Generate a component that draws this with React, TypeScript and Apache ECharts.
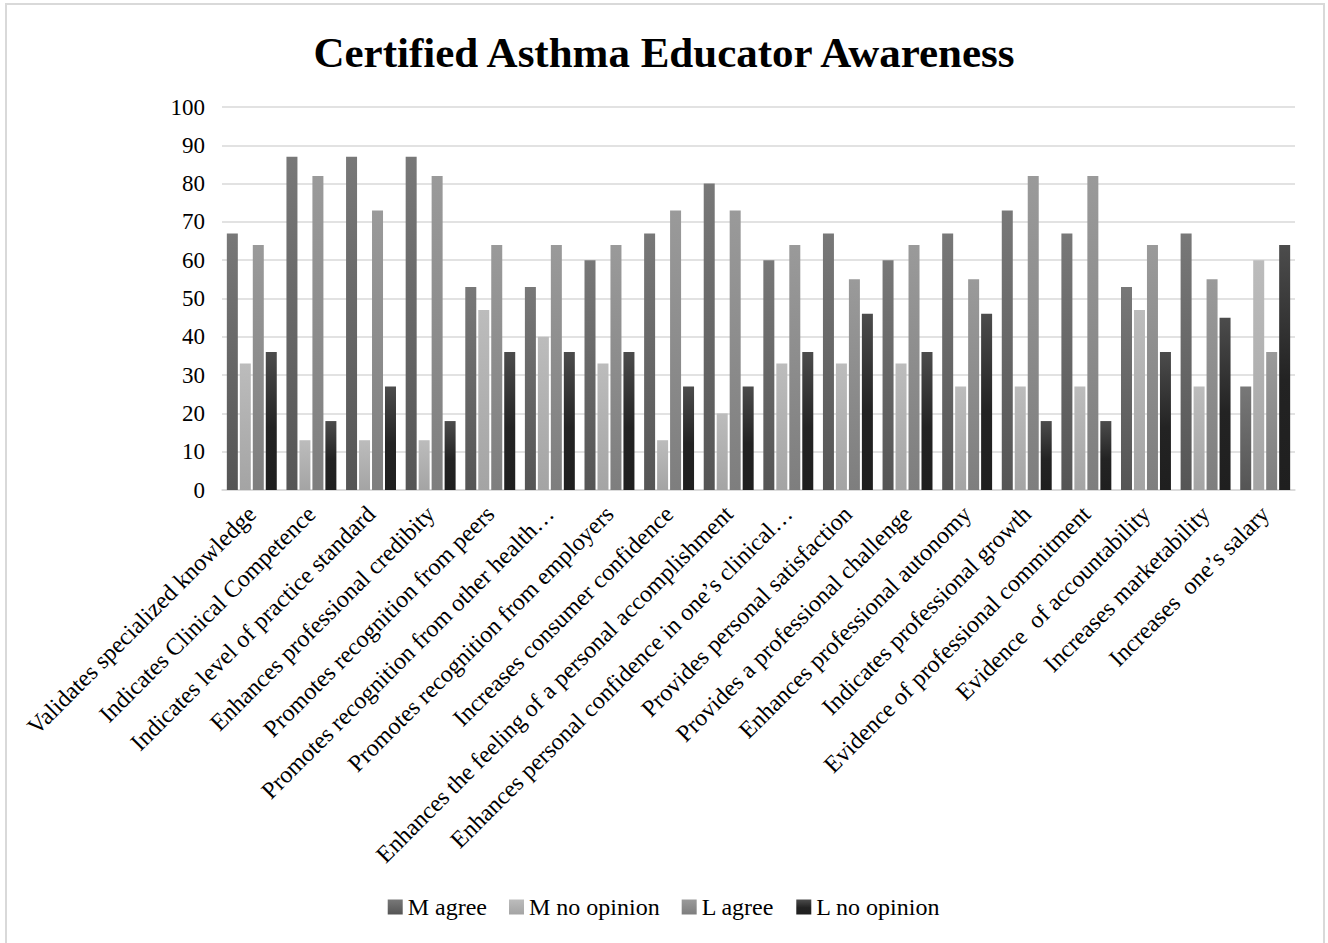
import React, { useEffect, useRef } from "react";
import * as echarts from "echarts";

const categories = [
  "Validates specialized knowledge",
  "Indicates Clinical Competence",
  "Indicates level of practice standard",
  "Enhances professional credibity",
  "Promotes recognition from peers",
  "Promotes recognition from other health…",
  "Promotes recognition from employers",
  "Increases consumer confidence",
  "Enhances the feeling of a personal accomplishment",
  "Enhances personal confidence in one’s clinical…",
  "Provides personal satisfaction",
  "Provides a professional challenge",
  "Enhances professional autonomy",
  "Indicates professional growth",
  "Evidence of professional commitment",
  "Evidence  of accountability",
  "Increases marketability",
  "Increases  one’s salary",
];

const mAgree = [67, 87, 87, 87, 53, 53, 60, 67, 80, 60, 67, 60, 67, 73, 67, 53, 67, 27];
const mNoOpinion = [33, 13, 13, 13, 47, 40, 33, 13, 20, 33, 33, 33, 27, 27, 27, 47, 27, 60];
const lAgree = [64, 82, 73, 82, 64, 64, 64, 73, 73, 64, 55, 64, 55, 82, 82, 64, 55, 36];
const lNoOpinion = [36, 18, 27, 18, 36, 36, 36, 27, 27, 36, 46, 36, 46, 18, 18, 36, 45, 64];

const seriesNames = ["M agree", "M no opinion", "L agree", "L no opinion"];
const yTicks = { min: 0, max: 100, interval: 10 };

const FONT = "'Liberation Serif', 'Times New Roman', serif";

function grad(stops: [number, string][]) {
  return new echarts.graphic.LinearGradient(
    0,
    0,
    0,
    1,
    stops.map(([offset, color]) => ({ offset, color }))
  );
}

export default function App() {
  const ref = useRef<HTMLDivElement>(null);

  useEffect(() => {
    if (!ref.current) return;
    const chart = echarts.init(ref.current, null, { renderer: "svg" });
    const colors = [
      grad([[0, "#787878"], [1, "#555555"]]),
      grad([[0, "#bcbcbc"], [1, "#a4a4a4"]]),
      grad([[0, "#9a9a9a"], [1, "#7e7e7e"]]),
      grad([[0, "#4c4c4c"], [0.55, "#232323"], [1, "#1f1f1f"]]),
    ];
    const datasets = [mAgree, mNoOpinion, lAgree, lNoOpinion];
    chart.setOption({
      animation: false,
      backgroundColor: "#ffffff",
      title: {
        text: "Certified Asthma Educator Awareness",
        left: "center",
        top: 26,
        textStyle: {
          fontFamily: FONT,
          fontWeight: "bold",
          fontSize: 43,
          color: "#000000",
        },
      },
      graphic: [
        {
          type: "rect",
          shape: { x: 6, y: 4, width: 1318, height: 945 },
          style: { fill: "none", stroke: "#d9d9d9", lineWidth: 2 },
          silent: true,
        },
      ],
      legend: {
        bottom: 19,
        left: "center",
        itemWidth: 15,
        itemHeight: 15,
        itemGap: 22,
        icon: "rect",
        textStyle: { fontFamily: FONT, fontSize: 24, color: "#000000" },
        data: seriesNames,
      },
      grid: {
        left: 222,
        right: 33,
        top: 107,
        bottom: 453,
        containLabel: false,
      },
      xAxis: {
        type: "category",
        data: categories,
        axisLine: { show: true, lineStyle: { color: "#d9d9d9", width: 1.5 } },
        axisTick: { show: false },
        axisLabel: {
          rotate: 45,
          interval: 0,
          margin: 20,
          fontFamily: FONT,
          fontSize: 24,
          color: "#000000",
        },
      },
      yAxis: {
        type: "value",
        min: yTicks.min,
        max: yTicks.max,
        interval: yTicks.interval,
        axisLine: { show: false },
        axisTick: { show: false },
        splitLine: { lineStyle: { color: "#d9d9d9", width: 1.5 } },
        axisLabel: {
          margin: 17,
          fontFamily: FONT,
          fontSize: 23,
          color: "#000000",
        },
      },
      series: seriesNames.map((name, i) => ({
        name,
        type: "bar",
        data: datasets[i],
        barWidth: 11,
        barGap: "18%",
        itemStyle: { color: colors[i] },
      })),
    });
    return () => chart.dispose();
  }, []);

  return (
    <div
      ref={ref}
      style={{ position: "absolute", left: 0, top: 0, width: 1328, height: 943 }}
    />
  );
}
